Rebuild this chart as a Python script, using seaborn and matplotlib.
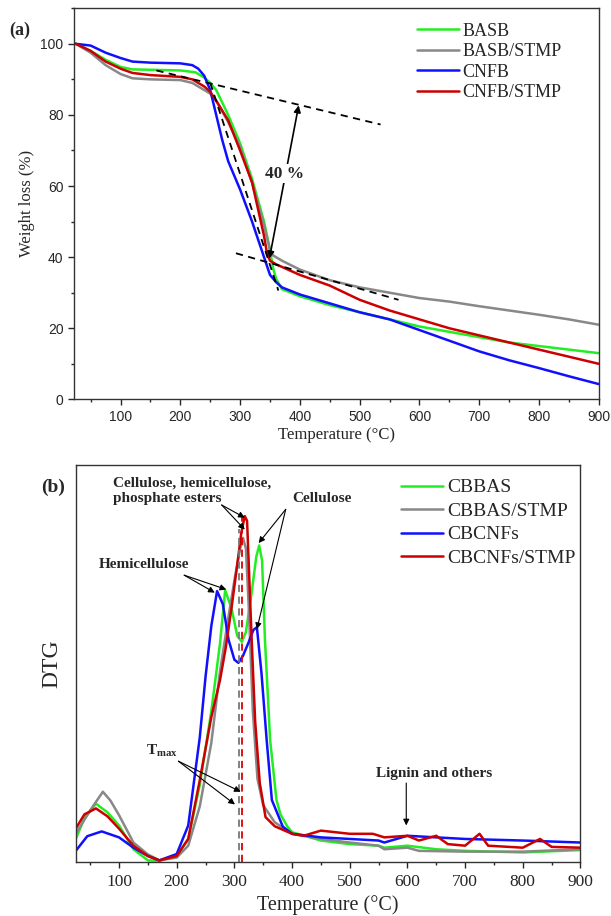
import numpy as np
import pandas as pd
import matplotlib
matplotlib.use("Agg")
import matplotlib.pyplot as plt
from matplotlib.ticker import MultipleLocator
import seaborn as sns

# ---------------- data: panel (a) TGA ----------------
tga_T = {
    "BASB":      [25, 50, 75, 100, 120, 150, 200, 225, 240, 250, 260, 280, 300, 320, 340, 350, 355, 360, 370, 400, 450, 500, 550, 600, 650, 700, 750, 800, 850, 900],
    "BASB/STMP": [25, 50, 75, 100, 120, 150, 200, 220, 240, 250, 260, 280, 300, 320, 340, 350, 355, 370, 400, 450, 500, 550, 600, 650, 700, 750, 800, 850, 900],
    "CNFB":      [25, 50, 75, 100, 120, 150, 200, 220, 230, 240, 250, 260, 270, 280, 300, 320, 340, 350, 360, 370, 400, 450, 500, 550, 600, 650, 700, 750, 800, 850, 900],
    "CNFB/STMP": [25, 50, 75, 100, 120, 150, 200, 220, 240, 250, 260, 280, 300, 320, 340, 345, 350, 360, 380, 400, 450, 500, 550, 600, 650, 700, 750, 800, 850, 900],
}
tga_W = {
    "BASB":      [100, 98, 95.5, 93.5, 92.8, 92.7, 92.5, 92, 90.5, 89, 87, 80, 72, 62, 50, 42, 37, 34, 31, 29, 26.5, 24.5, 22.5, 20.5, 19, 17.5, 16, 15, 14, 13],
    "BASB/STMP": [100, 97.5, 94, 91.5, 90.3, 90, 89.8, 89, 87, 86, 84, 78, 71, 61, 49, 42, 40.5, 39, 36.5, 33.5, 31.5, 30, 28.5, 27.5, 26.2, 25, 23.8, 22.5, 21],
    "CNFB":      [100, 99.5, 97.5, 96, 95, 94.7, 94.5, 94, 93, 91, 87, 80, 73, 67, 59, 50, 40, 35, 33, 31.5, 29.5, 27, 24.5, 22.5, 19.5, 16.5, 13.5, 11, 8.8, 6.5, 4.3],
    "CNFB/STMP": [100, 98, 95, 93, 91.8, 91.2, 90.7, 90, 88, 86.5, 84, 78.5, 70, 61, 46, 41, 39, 38, 36.5, 35, 32, 28, 25, 22.5, 20, 18, 16, 14, 12, 10],
}
tga_names = ["BASB", "BASB/STMP", "CNFB", "CNFB/STMP"]

# tangent / arrow annotation geometry (data units)
tan_upper = ([160, 535], [92.5, 77.3])
tan_lower = ([293, 565], [41.1, 28.0])
tan_steep = ([250, 364], [89.0, 30.6])
arrow_40 = ((349, 39.6), (398, 82.7))
label_40 = (375, 63.5, "40 %")

# ---------------- data: panel (b) DTG ----------------
dtg_T = {
    "CBBAS":       [25, 40, 60, 80, 100, 125, 150, 170, 200, 220, 240, 260, 275, 284, 295, 305, 313, 320, 330, 338, 343, 348, 353, 362, 373, 380, 392, 400, 450, 500, 550, 560, 600, 650, 700, 800, 900],
    "CBBAS/STMP":  [25, 50, 72, 85, 100, 125, 150, 170, 200, 220, 240, 260, 275, 290, 300, 310, 315, 320, 325, 332, 340, 350, 370, 400, 450, 500, 550, 560, 600, 620, 700, 800, 900],
    "CBCNFs":      [25, 45, 70, 100, 125, 150, 170, 200, 220, 240, 250, 260, 270, 280, 290, 300, 307, 315, 325, 333, 339, 347, 356, 365, 384, 400, 450, 500, 550, 560, 600, 650, 700, 800, 900],
    "CBCNFs/STMP": [25, 40, 60, 80, 100, 125, 150, 170, 200, 220, 240, 260, 275, 285, 295, 305, 312, 318, 322, 330, 336, 344, 354, 370, 400, 420, 450, 500, 540, 560, 600, 620, 650, 670, 700, 725, 740, 800, 830, 850, 900],
}
dtg_V = {
    "CBBAS":       [5.8, 11, 14.7, 12.5, 9.2, 3.2, 0.4, 0.3, 1.5, 5.8, 19.4, 38, 55, 68.5, 64, 57, 55.5, 58, 68, 77, 79.8, 76, 56, 30.7, 15.6, 12, 8.9, 7.5, 5.4, 4.5, 4.1, 3.6, 4.1, 3.2, 2.8, 2.4, 3.0],
    "CBBAS/STMP":  [7.1, 13, 17.7, 15.5, 11.8, 4.9, 1.9, 0.4, 1.1, 4.1, 14, 30, 48, 62, 71, 79, 81.7, 79, 64, 38, 21, 14.3, 10, 7.1, 5.8, 4.9, 4.1, 3.2, 3.6, 2.8, 2.6, 2.6, 3.2],
    "CBCNFs":      [2.8, 6.5, 7.7, 6.2, 3.6, 1.5, 0.4, 2.0, 9.2, 31.4, 46.7, 59.5, 68.3, 65, 56, 51, 50.2, 52, 55.5, 58.5, 59.2, 47.6, 30.7, 15.6, 8.9, 7.1, 6.2, 5.8, 5.4, 4.9, 6.6, 6.2, 5.8, 5.4, 4.9],
    "CBCNFs/STMP": [8.4, 12, 13.5, 11.5, 8.4, 4.1, 1.5, 0.4, 1.5, 5.8, 20.6, 36.5, 45.8, 54, 64, 75, 83, 87.2, 86, 56, 35.5, 19.9, 11.3, 9, 7.1, 6.6, 7.9, 7.1, 7.1, 6.2, 6.6, 5.4, 6.6, 4.5, 4.1, 7.1, 4.1, 3.6, 5.8, 3.8, 3.6],
}
dtg_names = ["CBBAS", "CBBAS/STMP", "CBCNFs", "CBCNFs/STMP"]
tmax_lines = {"CBBAS/STMP": (308, 84.0), "CBCNFs/STMP": (313.5, 87.0)}

colors = ["#22ee22", "#888888", "#1010ff", "#cc0000"]

# ---------------- figure ----------------
sns.set_theme(style="ticks")
plt.rcParams["font.family"] = ["Liberation Serif", "DejaVu Serif"]
plt.rcParams["mathtext.fontset"] = "custom"
plt.rcParams["mathtext.rm"] = "Liberation Serif"
plt.rcParams["mathtext.bf"] = "Liberation Serif:bold"

fig = plt.figure(figsize=(6.11, 9.16), dpi=100)
ax1 = fig.add_axes([0.121, 0.564, 0.859, 0.427])
ax2 = fig.add_axes([0.124, 0.059, 0.826, 0.433])

# --- panel (a)
rows = []
for n in tga_names:
    for t, w in zip(tga_T[n], tga_W[n]):
        rows.append((n, t, w))
df_a = pd.DataFrame(rows, columns=["sample", "T", "W"])
sns.lineplot(data=df_a, x="T", y="W", hue="sample", hue_order=tga_names,
             palette=colors, sort=False, estimator=None, lw=1.8, ax=ax1)

for (xs, ys) in (tan_upper, tan_lower, tan_steep):
    ax1.plot(xs, ys, ls=(0, (4, 3)), color="black", lw=1.3)
ax1.annotate("", xy=arrow_40[0], xytext=arrow_40[1],
             arrowprops=dict(arrowstyle="<|-|>", color="black", lw=1.2,
                             mutation_scale=10, shrinkA=0, shrinkB=0))
ax1.text(label_40[0], label_40[1], label_40[2], fontsize=12.5, fontweight="bold",
         ha="center", va="center",
         bbox=dict(facecolor="white", edgecolor="none", pad=1))

ax1.set_xlim(22, 900)
ax1.set_ylim(0, 110)
ax1.xaxis.set_major_locator(MultipleLocator(100))
ax1.xaxis.set_minor_locator(MultipleLocator(50))
ax1.yaxis.set_major_locator(MultipleLocator(20))
ax1.yaxis.set_minor_locator(MultipleLocator(10))
ax1.tick_params(which="both", direction="out", top=False, right=False)
ax1.tick_params(which="major", length=4, width=1)
ax1.tick_params(which="minor", length=2.5, width=1)
for lab in ax1.get_xticklabels() + ax1.get_yticklabels():
    lab.set_fontfamily("Liberation Sans")
    lab.set_fontsize(10)
ax1.set_xlabel("Temperature (°C)", fontsize=12, labelpad=2)
ax1.set_ylabel("Weight loss (%)", fontsize=12, labelpad=4)
for s in ax1.spines.values():
    s.set_visible(True); s.set_linewidth(1.0); s.set_color("#333333")
h, l = ax1.get_legend_handles_labels()
ax1.legend(h, l, loc="upper right", bbox_to_anchor=(0.96, 1.005), frameon=False,
           fontsize=13, handlelength=2.3, handletextpad=0.2, labelspacing=0.2)
fig.text(0.015, 0.962, "(a)", fontsize=13, fontweight="bold")

# --- panel (b)
rows = []
for n in dtg_names:
    for t, v in zip(dtg_T[n], dtg_V[n]):
        rows.append((n, t, v))
df_b = pd.DataFrame(rows, columns=["sample", "T", "DTG"])
sns.lineplot(data=df_b, x="T", y="DTG", hue="sample", hue_order=dtg_names,
             palette=colors, sort=False, estimator=None, lw=1.8, ax=ax2)

ax2.vlines(tmax_lines["CBBAS/STMP"][0], 0, tmax_lines["CBBAS/STMP"][1],
           colors="#777777", linestyles=(0, (4, 2.5)), lw=1.3)
ax2.vlines(tmax_lines["CBCNFs/STMP"][0], 0, tmax_lines["CBCNFs/STMP"][1],
           colors="#dd0000", linestyles=(0, (4, 2.5)), lw=1.3)

ap = dict(arrowstyle="-|>", color="black", lw=0.8, mutation_scale=9, shrinkA=0, shrinkB=0)
afs = 11
ax2.text(90, 97.2, "Cellulose, hemicellulose,\nphosphate esters", fontsize=afs,
         fontweight="bold", ha="left", va="top", linespacing=1.3)
ax2.annotate("", xy=(318, 86.8), xytext=(278, 90), arrowprops=ap)
ax2.annotate("", xy=(318, 83.8), xytext=(278, 90), arrowprops=ap)
ax2.text(400, 91.7, "Cellulose", fontsize=afs, fontweight="bold", ha="left", va="center")
ax2.annotate("", xy=(342, 80.4), xytext=(389, 88.9), arrowprops=ap)
ax2.annotate("", xy=(339, 58.7), xytext=(389, 88.9), arrowprops=ap)
ax2.text(65, 75, "Hemicellulose", fontsize=afs, fontweight="bold", ha="left", va="center")
ax2.annotate("", xy=(266, 67.9), xytext=(213, 72.3), arrowprops=ap)
ax2.annotate("", xy=(286, 68.7), xytext=(213, 72.3), arrowprops=ap)
ax2.text(147, 28, r"$\mathbf{T}_{\mathbf{max}}$", fontsize=afs, ha="left", va="center")
ax2.annotate("", xy=(311, 17.7), xytext=(203, 25.4), arrowprops=ap)
ax2.annotate("", xy=(301, 14.5), xytext=(203, 25.4), arrowprops=ap)
ax2.text(545, 22.3, "Lignin and others", fontsize=afs, fontweight="bold", ha="left", va="center")
ax2.annotate("", xy=(598, 9.2), xytext=(598, 19.9), arrowprops=ap)

ax2.set_xlim(25, 900)
ax2.set_ylim(0, 100)
ax2.xaxis.set_major_locator(MultipleLocator(100))
ax2.xaxis.set_minor_locator(MultipleLocator(50))
ax2.set_yticks([])
ax2.tick_params(which="both", direction="out", top=False, right=False, left=False)
ax2.tick_params(which="major", length=4, width=1, labelsize=12.5, pad=5)
ax2.tick_params(which="minor", length=2.5, width=1)
ax2.set_xlabel("Temperature (°C)", fontsize=14.5, labelpad=3)
ax2.set_ylabel("DTG", fontsize=17, labelpad=10)
for s in ax2.spines.values():
    s.set_visible(True); s.set_linewidth(1.0); s.set_color("#333333")
h, l = ax2.get_legend_handles_labels()
ax2.legend(h, l, loc="upper right", bbox_to_anchor=(1.025, 1.01), frameon=False,
           fontsize=14, handlelength=2.2, handletextpad=0.2, labelspacing=0.3)
fig.text(0.068, 0.463, "(b)", fontsize=14, fontweight="bold")

fig.savefig("out.png", dpi=100)
